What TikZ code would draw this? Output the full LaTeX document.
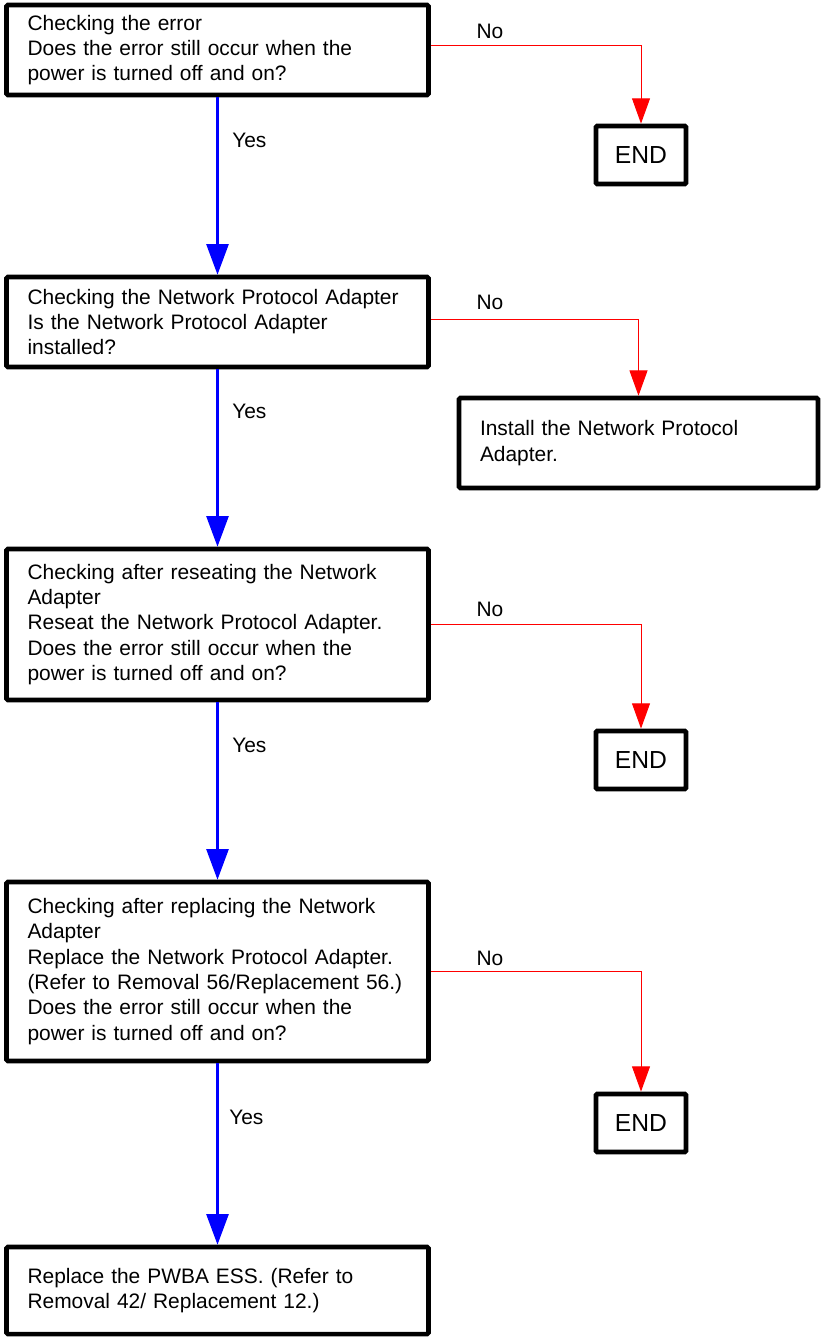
\documentclass[tikz,border=0pt]{standalone}
\usepackage{fontspec}
\setmainfont{Liberation Sans}
\usepackage{xcolor}
\usepackage{tikz}
\usetikzlibrary{calc,arrows.meta}
\definecolor{yesblue}{RGB}{0,0,255}
\definecolor{nored}{RGB}{255,0,0}
\tikzset{
  chkbox/.style={draw=black, line width=3.4pt, rounded corners=1pt,
                 minimum width=316.5pt, inner xsep=15.75pt, inner ysep=0pt,
                 text width=285pt, align=left,
                 font=\fontsize{15.7}{19}\selectfont},
  endbox/.style={draw=black, line width=3.6pt, rounded corners=1pt,
                 minimum width=67.5pt, minimum height=43.5pt, inner sep=0pt,
                 font=\fontsize{18.5}{22}\selectfont},
  lbl/.style={inner sep=0pt, font=\fontsize{15.7}{19}\selectfont},
  yesarrow/.style={draw=yesblue, line width=2pt,
                   -{Triangle[length=23pt, width=16.5pt]}},
  noarrow/.style={draw=nored, line width=0.75pt,
                  -{Triangle[length=19pt, width=13.5pt]}},
}
\begin{document}
\begin{tikzpicture}[x=0.75pt, y=-0.75pt]
\useasboundingbox (0,0) rectangle (824,1338);
% Left column: the checks, top to bottom
\node[chkbox, minimum height=67.5pt] (q1) at (217.5,50)
  {Checking the error\\
   Does the error still occur when the\\
   power is turned off and on?};
\node[chkbox, minimum height=67.5pt] (q2) at (217.5,322)
  {Checking the Network Protocol Adapter\\
   Is the Network Protocol Adapter\\
   installed?};
\node[chkbox, minimum height=113.25pt] (q3) at (217.5,624.5)
  {Checking after reseating the Network\\
   Adapter\\
   Reseat the Network Protocol Adapter.\\
   Does the error still occur when the\\
   power is turned off and on?};
\node[chkbox, minimum height=134.25pt] (q4) at (217.5,971.5)
  {Checking after replacing the Network\\
   Adapter\\
   Replace the Network Protocol Adapter.\\
   \mbox{(Refer to Removal 56/Replacement 56.)}\\
   Does the error still occur when the\\
   power is turned off and on?};
\node[chkbox, minimum height=65.25pt] (q5) at (217.5,1290.5)
  {Replace the PWBA ESS. (Refer to\\
   Removal 42/ Replacement 12.)};
% Right column: outcomes of the No branches
\node[endbox] (end1) at (641,155) {END};
\node[chkbox, minimum width=269.25pt, minimum height=67.5pt,
      text width=237.75pt] (inst) at (638.5,443)
  {Install the Network Protocol\\
   Adapter.};
\node[endbox] (end2) at (641,760) {END};
\node[endbox] (end3) at (641,1123) {END};
% Yes branches
\draw[yesarrow] (q1.south) -- (q2.north);
\draw[yesarrow] (q2.south) -- (q3.north);
\draw[yesarrow] (q3.south) -- (q4.north);
\draw[yesarrow] (q4.south) -- (q5.north);
\node[lbl, anchor=west] (yes1) at (232,140) {Yes};
\node[lbl, anchor=west] (yes2) at (232,411) {Yes};
\node[lbl, anchor=west] (yes3) at (232,745) {Yes};
\node[lbl, anchor=west] (yes4) at (229,1117) {Yes};
% No branches
\draw[noarrow] ([yshift=3pt]q1.east) -| (end1.north);
\draw[noarrow] ([yshift=2.25pt]q2.east) -| (inst.north);
\draw[noarrow] (q3.east) -| (end2.north);
\draw[noarrow] (q4.east) -| (end3.north);
\node[lbl] (no1) at (490,31) {No};
\node[lbl] (no2) at (490,302) {No};
\node[lbl] (no3) at (490,609) {No};
\node[lbl] (no4) at (490,958) {No};
\end{tikzpicture}
\end{document}
